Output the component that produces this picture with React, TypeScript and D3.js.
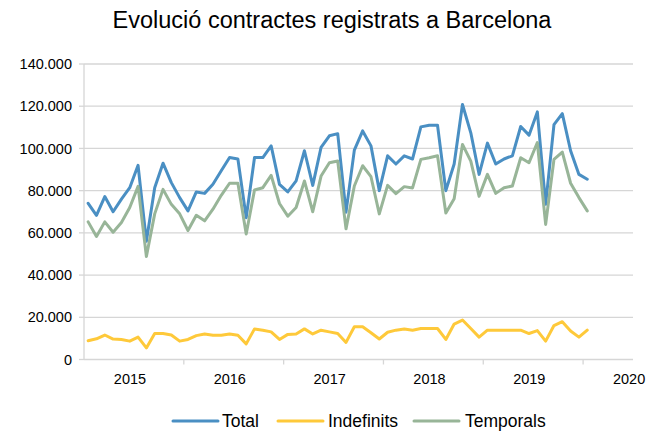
import React from 'react';
import * as d3 from 'd3';

// monthly registered contracts, Jan 2015 - Jan 2020
const total = [
  74000, 68300, 77200, 70000, 76000, 81400, 92000, 56000, 81400, 93000, 83800, 76700,
  70400, 79400, 78700, 83000, 89400, 95700, 95000, 67200, 95700, 95700, 101200, 83000,
  79400, 84600, 98900, 82500, 100500, 106000, 107000, 69800, 99200, 108300, 101200, 80000,
  96500, 92600, 96500, 95000, 110200, 111000, 111000, 80000, 92600, 120800, 107400, 87700,
  102500, 92600, 95000, 96500, 110400, 106300, 117300, 73500, 111300, 116500, 98900, 87700,
  85400,
];
const indefinits = [
  8900, 9800, 11600, 9700, 9500, 8700, 10600, 5500, 12300, 12300, 11600, 8700,
  9500, 11300, 12100, 11500, 11500, 12100, 11500, 7400, 14500, 13900, 13100, 9500,
  11900, 12100, 14500, 12100, 13900, 13100, 12300, 8100, 15500, 15500, 12700, 9700,
  12900, 13900, 14500, 13900, 14700, 14700, 14700, 9500, 16800, 18700, 14700, 10600,
  13900, 13900, 13900, 13900, 13900, 12300, 13700, 8700, 16100, 17900, 13500, 10600,
  13900,
];
const temporals = [
  65200, 58300, 65200, 60300, 64900, 72000, 82000, 48800, 69000, 80600, 73500, 69000,
  61100, 68300, 65700, 71200, 77800, 83500, 83500, 59500, 80300, 81400, 87200, 73900,
  67900, 72000, 84600, 70000, 86900, 93200, 94000, 61900, 82200, 91800, 86600, 69000,
  82500, 78600, 81900, 81300, 94800, 95600, 96500, 69400, 76200, 101900, 94000, 77300,
  87700, 78700, 81400, 82200, 95600, 93200, 102800, 64000, 94800, 98300, 83500, 76700,
  70400,
];
const years = [2015, 2016, 2017, 2018, 2019, 2020];
const yTicks = [0, 20000, 40000, 60000, 80000, 100000, 120000, 140000];

const series = [
  { name: 'Total', values: total, color: '#4a8fc3' },
  { name: 'Indefinits', values: indefinits, color: '#fec93a' },
  { name: 'Temporals', values: temporals, color: '#98b598' },
];

const W = 662;
const H = 432;
const left = 84;
const right = 633;
const top = 64;
const bottom = 359.5;
const nMonths = 66; // axis runs Jan 2015 - Jun 2020

const fmt = d3.formatLocale({ decimal: ',', thousands: '.', grouping: [3], currency: ['', '€'] }).format(',.0f');

export default function App() {
  const x = d3.scaleBand<number>().domain(d3.range(nMonths)).range([left, right]).paddingInner(0);
  const y = d3.scaleLinear().domain([0, 140000]).range([bottom, top]);
  const cx = (i: number) => (x(i) as number) + x.bandwidth() / 2;

  const line = d3.line<number>()
    .x((_, i) => cx(i))
    .y((d) => y(d));

  const font = '"Liberation Sans", Arial, sans-serif';

  const legendItems = [
    { ...series[0], sx: 173, tx: 222 },
    { ...series[1], sx: 278, tx: 328 },
    { ...series[2], sx: 414, tx: 465 },
  ];

  return (
    <svg width={W} height={H} style={{ position: 'absolute', left: 0, top: 0, display: 'block', background: '#fff' }} fontFamily={font}>
      <text x={332} y={28} textAnchor="middle" fontSize={23.5} fill="#000">
        Evolució contractes registrats a Barcelona
      </text>

      {/* gridlines + y labels */}
      {yTicks.map((t) => (
        <g key={t}>
          {t > 0 && <line x1={left} x2={right} y1={y(t)} y2={y(t)} stroke="#d6d6d6" strokeWidth={1.3} />}
          <line x1={left - 5} x2={left} y1={y(t)} y2={y(t)} stroke="#d6d6d6" strokeWidth={1.3} />
          <text x={72} y={y(t)} dy="0.35em" textAnchor="end" fontSize={14.5} fill="#000">
            {fmt(t)}
          </text>
        </g>
      ))}
      <line x1={left} x2={left} y1={top} y2={bottom} stroke="#d6d6d6" strokeWidth={1.3} />
      <line x1={left} x2={right} y1={bottom} y2={bottom} stroke="#d6d6d6" strokeWidth={1.3} />

      {/* year ticks */}
      {years.map((yr, k) => {
        const m = k * 12;
        const tx = x(m) as number;
        return (
          <g key={yr}>
            {m > 0 && m < nMonths && <line x1={tx} x2={tx} y1={bottom} y2={bottom + 5} stroke="#d6d6d6" strokeWidth={1.3} />}
            <text x={tx + 46} y={384} textAnchor="middle" fontSize={14.5} fill="#000">
              {yr}
            </text>
          </g>
        );
      })}

      {series.map((s) => (
        <path key={s.name} d={line(s.values) || ''} fill="none" stroke={s.color} strokeWidth={3} strokeLinejoin="round" strokeLinecap="round" />
      ))}

      {/* legend */}
      {legendItems.map((l) => (
        <g key={l.name}>
          <line x1={l.sx} x2={l.sx + 45} y1={421} y2={421} stroke={l.color} strokeWidth={3} strokeLinecap="round" />
          <text x={l.tx} y={421} dy="0.35em" fontSize={17.5} fill="#000">
            {l.name}
          </text>
        </g>
      ))}
    </svg>
  );
}
